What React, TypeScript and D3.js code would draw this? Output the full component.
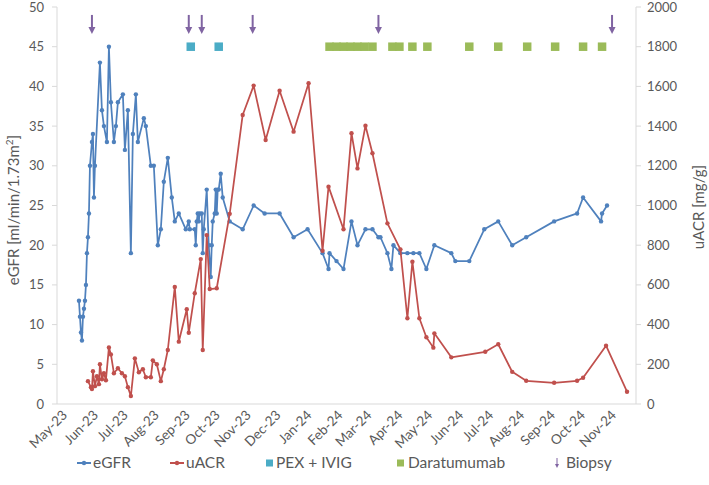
import React from "react";
import * as d3 from "d3";

// eGFR [ml/min/1.73m2] by sample date
const egfr: [string, number][] = [
  ["2023-05-23", 13], ["2023-05-24", 11], ["2023-05-25", 9], ["2023-05-26", 8],
  ["2023-05-27", 11], ["2023-05-28", 12], ["2023-05-29", 13], ["2023-05-30", 15],
  ["2023-05-31", 19], ["2023-06-01", 21], ["2023-06-02", 24], ["2023-06-03", 30],
  ["2023-06-05", 33], ["2023-06-06", 34], ["2023-06-07", 26], ["2023-06-08", 30],
  ["2023-06-13", 43], ["2023-06-15", 37], ["2023-06-17", 35], ["2023-06-20", 33],
  ["2023-06-22", 45], ["2023-06-24", 38], ["2023-06-27", 33], ["2023-06-29", 35],
  ["2023-07-01", 38], ["2023-07-06", 39], ["2023-07-08", 32], ["2023-07-11", 37],
  ["2023-07-14", 19], ["2023-07-16", 34], ["2023-07-19", 39], ["2023-07-21", 33],
  ["2023-07-27", 36], ["2023-07-29", 35], ["2023-08-03", 30], ["2023-08-06", 30],
  ["2023-08-10", 20], ["2023-08-13", 22], ["2023-08-16", 28], ["2023-08-20", 31],
  ["2023-08-24", 26], ["2023-08-27", 23], ["2023-08-31", 24], ["2023-09-07", 22],
  ["2023-09-10", 23], ["2023-09-11", 22], ["2023-09-16", 22], ["2023-09-17", 20],
  ["2023-09-18", 23], ["2023-09-19", 24], ["2023-09-20", 23], ["2023-09-21", 24],
  ["2023-09-23", 24], ["2023-09-24", 19], ["2023-09-25", 22], ["2023-09-28", 27],
  ["2023-09-30", 20], ["2023-10-02", 16], ["2023-10-03", 20], ["2023-10-04", 23],
  ["2023-10-06", 24], ["2023-10-07", 27], ["2023-10-08", 24], ["2023-10-09", 27],
  ["2023-10-10", 27], ["2023-10-12", 29], ["2023-10-14", 26], ["2023-10-21", 23],
  ["2023-11-03", 22], ["2023-11-14", 25], ["2023-11-25", 24], ["2023-12-10", 24],
  ["2023-12-24", 21], ["2024-01-07", 22], ["2024-01-22", 19], ["2024-01-28", 17],
  ["2024-01-29", 19], ["2024-02-05", 18], ["2024-02-12", 17], ["2024-02-20", 23],
  ["2024-02-26", 20], ["2024-03-05", 22], ["2024-03-12", 22], ["2024-03-18", 21],
  ["2024-03-20", 21], ["2024-03-27", 19], ["2024-03-31", 17], ["2024-04-02", 20],
  ["2024-04-09", 19], ["2024-04-16", 19], ["2024-04-22", 19], ["2024-04-28", 19],
  ["2024-05-05", 17], ["2024-05-13", 20], ["2024-05-30", 19], ["2024-06-03", 18],
  ["2024-06-17", 18], ["2024-07-02", 22], ["2024-07-16", 23], ["2024-07-30", 20],
  ["2024-08-13", 21], ["2024-09-10", 23], ["2024-10-03", 24], ["2024-10-09", 26],
  ["2024-10-27", 23], ["2024-10-28", 24], ["2024-11-02", 25],
];

// uACR [mg/g] by sample date
const uacr: [string, number][] = [
  ["2023-06-01", 115], ["2023-06-04", 85], ["2023-06-05", 75], ["2023-06-06", 165],
  ["2023-06-08", 90], ["2023-06-10", 140], ["2023-06-12", 100], ["2023-06-13", 200],
  ["2023-06-15", 125], ["2023-06-17", 155], ["2023-06-19", 120], ["2023-06-22", 285],
  ["2023-06-24", 250], ["2023-06-27", 155], ["2023-07-01", 180], ["2023-07-05", 155],
  ["2023-07-08", 140], ["2023-07-11", 85], ["2023-07-14", 40], ["2023-07-18", 230],
  ["2023-07-22", 160], ["2023-07-26", 175], ["2023-07-29", 135], ["2023-08-03", 135],
  ["2023-08-05", 220], ["2023-08-09", 200], ["2023-08-13", 115], ["2023-08-16", 175],
  ["2023-08-20", 272], ["2023-08-27", 590], ["2023-08-31", 314], ["2023-09-08", 477],
  ["2023-09-10", 359], ["2023-09-16", 558], ["2023-09-22", 730], ["2023-09-24", 272],
  ["2023-09-28", 851], ["2023-10-01", 579], ["2023-10-08", 583], ["2023-10-21", 958],
  ["2023-11-03", 1456], ["2023-11-14", 1604], ["2023-11-26", 1330], ["2023-12-10", 1578],
  ["2023-12-24", 1372], ["2024-01-08", 1616], ["2024-01-22", 772], ["2024-01-28", 1095],
  ["2024-02-12", 880], ["2024-02-20", 1364], ["2024-02-26", 1187], ["2024-03-05", 1402],
  ["2024-03-12", 1263], ["2024-03-27", 910], ["2024-04-09", 779], ["2024-04-16", 432],
  ["2024-04-21", 717], ["2024-04-28", 432], ["2024-05-05", 336], ["2024-05-12", 284],
  ["2024-05-13", 356], ["2024-05-30", 235], ["2024-07-03", 263], ["2024-07-16", 301],
  ["2024-07-30", 162], ["2024-08-13", 117], ["2024-09-10", 107], ["2024-10-03", 117],
  ["2024-10-09", 132], ["2024-11-01", 294], ["2024-11-22", 62],
];

// treatments and events
const pexIvig = ["2023-09-12", "2023-10-10"];
const daratumumab = [
  "2024-01-29", "2024-02-05", "2024-02-12", "2024-02-19", "2024-02-26", "2024-03-04",
  "2024-03-12", "2024-04-01", "2024-04-08", "2024-04-21", "2024-05-06", "2024-06-17",
  "2024-07-16", "2024-08-14", "2024-09-11", "2024-10-09", "2024-10-28",
];
const biopsies = ["2023-06-05", "2023-09-10", "2023-09-23", "2023-11-13", "2024-03-18", "2024-11-07"];

const egfrTicks = [0, 5, 10, 15, 20, 25, 30, 35, 40, 45, 50];
const uacrTicks = [0, 200, 400, 600, 800, 1000, 1200, 1400, 1600, 1800, 2000];

const BLUE = "#4F81BD";
const RED = "#C0504D";
const TEAL = "#4BACC6";
const GREEN = "#9BBB59";
const PURPLE = "#8064A2";
const AXIS = "#D9D9D9";
const TEXT = "#595959";
const FONT = "Lato, 'Open Sans', sans-serif";

const parse = d3.timeParse("%Y-%m-%d");
const fmt = d3.timeFormat("%b-%y");

const W = 709;
const H = 485;
const left = 57;
const right = 636;
const top = 7;
const bottom = 404;

export default function App() {
  const start = new Date(2023, 4, 1);
  const end = new Date(2024, 11, 1);
  const x = d3.scaleTime().domain([start, end]).range([left, right]);
  const yL = d3.scaleLinear().domain([0, 50]).range([bottom, top]);
  const yR = d3.scaleLinear().domain([0, 2000]).range([bottom, top]);
  const months = d3.timeMonth.range(start, end);

  const egfrLine = d3
    .line<[string, number]>()
    .x((d) => x(parse(d[0])!))
    .y((d) => yL(d[1]));
  const uacrLine = d3
    .line<[string, number]>()
    .x((d) => x(parse(d[0])!))
    .y((d) => yR(d[1]));

  const sq = 8.5;
  const arrowTop = yL(49);
  const arrowTip = yL(46.6);
  const legendY = 463;

  return (
    <svg
      width={W}
      height={H}
      style={{ position: "absolute", left: 0, top: 0, background: "#fff" }}
      fontFamily={FONT}
    >
      {/* axes */}
      <line x1={left} x2={left} y1={top} y2={bottom} stroke={AXIS} />
      <line x1={right} x2={right} y1={top} y2={bottom} stroke={AXIS} />
      <line x1={left} x2={right} y1={bottom} y2={bottom} stroke={AXIS} />
      {egfrTicks.map((t) => (
        <g key={"l" + t}>
          <line x1={left - 5} x2={left} y1={yL(t)} y2={yL(t)} stroke={AXIS} />
          <text x={left - 13} y={yL(t)} dy="0.35em" textAnchor="end" fontSize={13} fill={TEXT}>
            {t}
          </text>
        </g>
      ))}
      {uacrTicks.map((t) => (
        <g key={"r" + t}>
          <line x1={right} x2={right + 5} y1={yR(t)} y2={yR(t)} stroke={AXIS} />
          <text x={right + 11} y={yR(t)} dy="0.35em" textAnchor="start" fontSize={13} fill={TEXT}>
            {t}
          </text>
        </g>
      ))}
      {months.map((m) => (
        <text
          key={m.toISOString()}
          transform={`translate(${x(m) + 11},${bottom + 12}) rotate(-45)`}
          textAnchor="end"
          fontSize={13.5}
          fill={TEXT}
        >
          {fmt(m)}
        </text>
      ))}
      <text transform="translate(19,210) rotate(-90)" textAnchor="middle" fontSize={15} fill={TEXT}>
        eGFR [ml/min/1.73m<tspan dy="-6" fontSize={10}>2</tspan>
        <tspan dy="6">]</tspan>
      </text>
      <text transform="translate(704,207) rotate(-90)" textAnchor="middle" fontSize={15} fill={TEXT}>
        uACR [mg/g]
      </text>

      {/* series */}
      <path d={egfrLine(egfr)!} fill="none" stroke={BLUE} strokeWidth={1.75} strokeLinejoin="round" />
      {egfr.map((d, i) => (
        <circle key={"e" + i} cx={x(parse(d[0])!)} cy={yL(d[1])} r={2.2} fill={BLUE} />
      ))}
      <path d={uacrLine(uacr)!} fill="none" stroke={RED} strokeWidth={1.75} strokeLinejoin="round" />
      {uacr.map((d, i) => (
        <circle key={"u" + i} cx={x(parse(d[0])!)} cy={yR(d[1])} r={2.2} fill={RED} />
      ))}

      {/* treatments */}
      {pexIvig.map((d) => (
        <rect key={"p" + d} x={x(parse(d)!) - sq / 2} y={yL(45) - sq / 2} width={sq} height={sq} fill={TEAL} />
      ))}
      {daratumumab.map((d) => (
        <rect key={"d" + d} x={x(parse(d)!) - sq / 2} y={yL(45) - sq / 2} width={sq} height={sq} fill={GREEN} />
      ))}
      {biopsies.map((d) => {
        const bx = x(parse(d)!);
        return (
          <g key={"b" + d}>
            <line x1={bx} x2={bx} y1={arrowTop} y2={arrowTip - 5} stroke={PURPLE} strokeWidth={2} />
            <path d={`M${bx - 3.5},${arrowTip - 7}L${bx + 3.5},${arrowTip - 7}L${bx},${arrowTip}Z`} fill={PURPLE} />
          </g>
        );
      })}

      {/* legend */}
      <g fontSize={15.5} fill={TEXT}>
        <line x1={77} x2={91} y1={legendY} y2={legendY} stroke={BLUE} strokeWidth={2} />
        <circle cx={84} cy={legendY} r={2.2} fill={BLUE} />
        <text x={93} y={legendY} dy="0.35em">eGFR</text>
        <line x1={170} x2={184} y1={legendY} y2={legendY} stroke={RED} strokeWidth={2} />
        <circle cx={177} cy={legendY} r={2.2} fill={RED} />
        <text x={186} y={legendY} dy="0.35em">uACR</text>
        <rect x={266} y={legendY - 3.5} width={7} height={7} fill={TEAL} />
        <text x={276} y={legendY} dy="0.35em">PEX + IVIG</text>
        <rect x={397} y={legendY - 3.5} width={7} height={7} fill={GREEN} />
        <text x={408} y={legendY} dy="0.35em">Daratumumab</text>
        <line x1={557} x2={557} y1={legendY - 5} y2={legendY + 2} stroke={PURPLE} strokeWidth={1} />
        <path d={`M${555},${legendY + 1}L${559},${legendY + 1}L${557},${legendY + 5}Z`} fill={PURPLE} />
        <text x={566} y={legendY} dy="0.35em">Biopsy</text>
      </g>
    </svg>
  );
}
